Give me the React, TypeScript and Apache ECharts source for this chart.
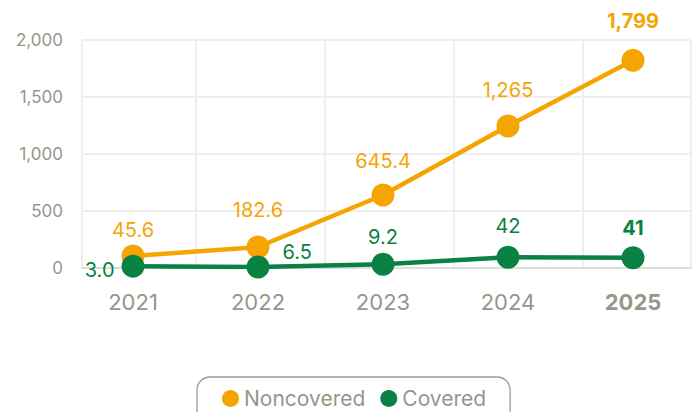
import React, { useEffect, useRef } from "react";
import * as echarts from "echarts";

const years = [2021, 2022, 2023, 2024, 2025];
const noncoveredPlot = [101, 180, 637, 1244, 1821];
const noncoveredLabels = ["45.6", "182.6", "645.4", "1,265", "1,799"];
const coveredPlot = [12, 5, 29, 90, 85];
const coveredLabels = ["3.0", "6.5", "9.2", "42", "41"];
const yTicks = [0, 500, 1000, 1500, 2000];

// x-axis extent and vertical grid boundaries (axis layout, in year units)
const X_MIN = 2020.592;
const X_MAX = 2025.464;
const X_GRID = [X_MIN, 2021.504, 2022.536, 2023.568, 2024.6, X_MAX];

const ORANGE = "#F5A502";
const GREEN = "#088142";
const GRAY = "#99958B";
const FONT = "Inter, 'Noto Sans', sans-serif";

export default function App() {
  const ref = useRef<HTMLDivElement>(null);
  useEffect(() => {
    document.body.style.margin = "0";
    if (!ref.current) return;
    const chart = echarts.init(ref.current, undefined, { renderer: "svg" });
    const last = years.length - 1;
    const orangeDist = [5, 16, 13, 14, 18];
    const orangeData = noncoveredPlot.map((v, i) => ({
      value: [years[i], v],
      label: {
        formatter: noncoveredLabels[i],
        fontWeight: i === last ? "bold" : "normal",
        distance: orangeDist[i],
      },
    }));
    const greenLabelCfg: any[] = [
      { position: "left", distance: 7, offset: [0, 4] },
      { position: "right", distance: 13, offset: [0, -15] },
      { position: "top", distance: 6 },
      { position: "top", distance: 10 },
      { position: "top", distance: 8, fontWeight: "bold" },
    ];
    const greenData = coveredPlot.map((v, i) => ({
      value: [years[i], v],
      label: { formatter: coveredLabels[i], ...greenLabelCfg[i] },
    }));
    chart.setOption({
      animation: false,
      textStyle: { fontFamily: FONT },
      grid: { left: 82, right: 2, top: 40, bottom: 412 - 267.5 },
      xAxis: {
        type: "value",
        min: X_MIN,
        max: X_MAX,
        axisLine: { show: true, onZero: false, lineStyle: { color: "#dcdcdc", width: 2 } },
        axisTick: { show: false, customValues: X_GRID },
        splitLine: { show: true, lineStyle: { color: "#eeeeee", width: 2 } },
        axisLabel: {
          customValues: years,
          color: GRAY,
          fontSize: 22,
          margin: 23,
          fontFamily: FONT,
          formatter: (v: number) => (v === years[last] ? `{b|${v}}` : `${v}`),
          rich: { b: { fontWeight: "bold", fontSize: 22, color: GRAY, fontFamily: FONT } },
        },
      },
      yAxis: {
        type: "value",
        min: yTicks[0],
        max: yTicks[yTicks.length - 1],
        interval: 500,
        axisLine: { show: false },
        axisTick: { show: false },
        splitLine: { lineStyle: { color: "#eeeeee", width: 2 } },
        axisLabel: {
          color: GRAY,
          fontSize: 17,
          margin: 19,
          fontFamily: FONT,
          formatter: (v: number) => v.toLocaleString("en-US"),
        },
      },
      legend: {
        top: 377,
        left: 197,
        icon: "circle",
        itemWidth: 17,
        itemHeight: 17,
        itemGap: 15,
        padding: [11, 24, 30, 25],
        borderColor: "#a09a90",
        borderWidth: 1.3,
        borderRadius: 13,
        textStyle: { color: GRAY, fontSize: 21, fontFamily: FONT },
        data: ["Noncovered", "Covered"],
      },
      series: [
        {
          name: "Noncovered",
          type: "line",
          data: orangeData,
          symbol: "circle",
          symbolSize: 23,
          lineStyle: { color: ORANGE, width: 4.5 },
          itemStyle: { color: ORANGE },
          label: { show: true, position: "top", color: ORANGE, fontSize: 20, fontFamily: FONT },
          z: 2,
        },
        {
          name: "Covered",
          type: "line",
          data: greenData,
          symbol: "circle",
          symbolSize: 23,
          lineStyle: { color: GREEN, width: 4.5 },
          itemStyle: { color: GREEN },
          label: { show: true, color: GREEN, fontSize: 20, fontFamily: FONT },
          z: 3,
        },
      ],
    });
    return () => chart.dispose();
  }, []);
  return <div ref={ref} style={{ width: 693, height: 412 }} />;
}
